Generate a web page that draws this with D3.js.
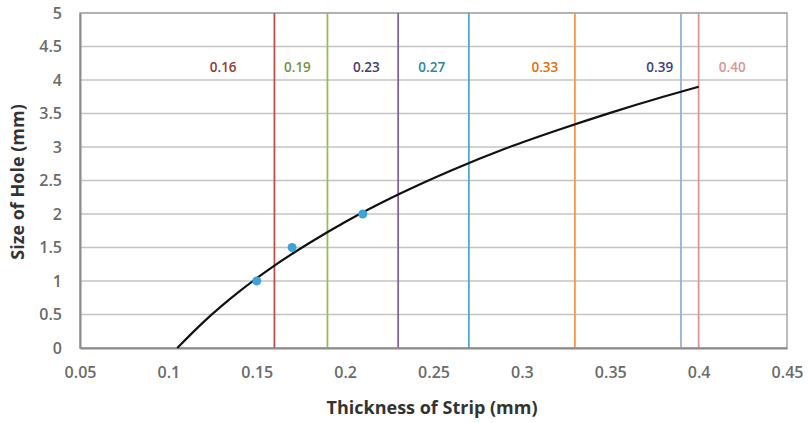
<!DOCTYPE html>
<html><head><meta charset="utf-8">
<script src="https://cdn.jsdelivr.net/npm/d3@7"></script>
<style>body{margin:0;background:#fff}svg{display:block}text{font-family:"Open Sans",sans-serif}</style>
</head><body><svg id="c" width="810" height="423"></svg>
<script>
const xTicks=[0.05,0.1,0.15,0.2,0.25,0.3,0.35,0.4,0.45];
const yTicks=[0,0.5,1,1.5,2,2.5,3,3.5,4,4.5,5];
const refX=[0.16,0.19,0.23,0.27,0.33,0.39,0.40];
const refLabels=["0.16","0.19","0.23","0.27","0.33","0.39","0.40"];
const refLabelX=[0.131,0.173,0.212,0.249,0.313,0.378,0.419];
const refColors=["#c0504d","#9bbb59","#8064a2","#4bacc6","#f79646","#95b3d7","#d99694"];
const refTextColors=["#953735","#77933c","#403f6f","#31859c","#e46c0a","#3b3f7a","#d99694"];
const curveX=[0.105,0.12,0.14,0.16,0.18,0.2,0.23,0.26,0.29,0.32,0.35,0.38,0.40];
const curveY=[0,0.39,0.84,1.23,1.57,1.88,2.29,2.65,2.97,3.25,3.51,3.75,3.90];
const ptX=[0.15,0.17,0.21];
const ptY=[1.0,1.5,2.0];

const svg=d3.select("#c");
const L=80,R=787,T=13,B=348;
const x=d3.scaleLinear().domain([0.05,0.45]).range([L,R]);
const y=d3.scaleLinear().domain([0,5]).range([B,T]);

svg.append("g").selectAll("line").data(yTicks).join("line")
 .attr("x1",L).attr("x2",R).attr("y1",d=>y(d)).attr("y2",d=>y(d))
 .attr("stroke","#c4c4c4").attr("stroke-width",1.5);
svg.append("rect").attr("x",L).attr("y",T).attr("width",R-L).attr("height",B-T)
 .attr("fill","none").attr("stroke","#a6a6a6").attr("stroke-width",1.5);

svg.append("g").selectAll("line").data(refX).join("line")
 .attr("x1",d=>x(d)).attr("x2",d=>x(d)).attr("y1",T).attr("y2",B)
 .attr("stroke",(d,i)=>refColors[i]).attr("stroke-width",1.8);
svg.append("g").selectAll("text").data(refLabels).join("text")
 .attr("x",(d,i)=>x(refLabelX[i])).attr("y",y(4.2)).attr("text-anchor","middle")
 .attr("dominant-baseline","central")
 .attr("font-size",13.5).attr("font-weight",600).attr("fill",(d,i)=>refTextColors[i]).text(d=>d);

const xa=svg.append("g").attr("transform",`translate(0,${B})`)
 .call(d3.axisBottom(x).tickValues(xTicks).tickFormat(d3.format("")).tickSize(0).tickPadding(19));
const ya=svg.append("g").attr("transform",`translate(${L},0)`)
 .call(d3.axisLeft(y).tickValues(yTicks).tickFormat(d3.format("")).tickSize(0).tickPadding(18));
[xa,ya].forEach(a=>{a.select(".domain").attr("stroke","#8c8c8c").attr("stroke-width",2);
 a.selectAll("text").attr("font-size",16).attr("font-weight",600).attr("fill","#6b6b6b").attr("font-family","Open Sans, sans-serif");});

const pts=curveX.map((d,i)=>[d,curveY[i]]);
svg.append("path").datum(pts).attr("fill","none").attr("stroke","#111").attr("stroke-width",2.2)
 .attr("d",d3.line().x(d=>x(d[0])).y(d=>y(d[1])).curve(d3.curveMonotoneX));

svg.append("g").selectAll("circle").data(ptX).join("circle")
 .attr("cx",d=>x(d)).attr("cy",(d,i)=>y(ptY[i])).attr("r",4.5).attr("fill","#3fa3da");

svg.append("text").attr("x",432).attr("y",414).attr("text-anchor","middle")
 .attr("font-size",18).attr("font-weight",700).attr("fill","#333").text("Thickness of Strip (mm)");
svg.append("text").attr("transform","translate(24,182) rotate(-90)").attr("text-anchor","middle")
 .attr("font-size",18).attr("font-weight",700).attr("fill","#333").text("Size of Hole (mm)");
</script></body></html>
